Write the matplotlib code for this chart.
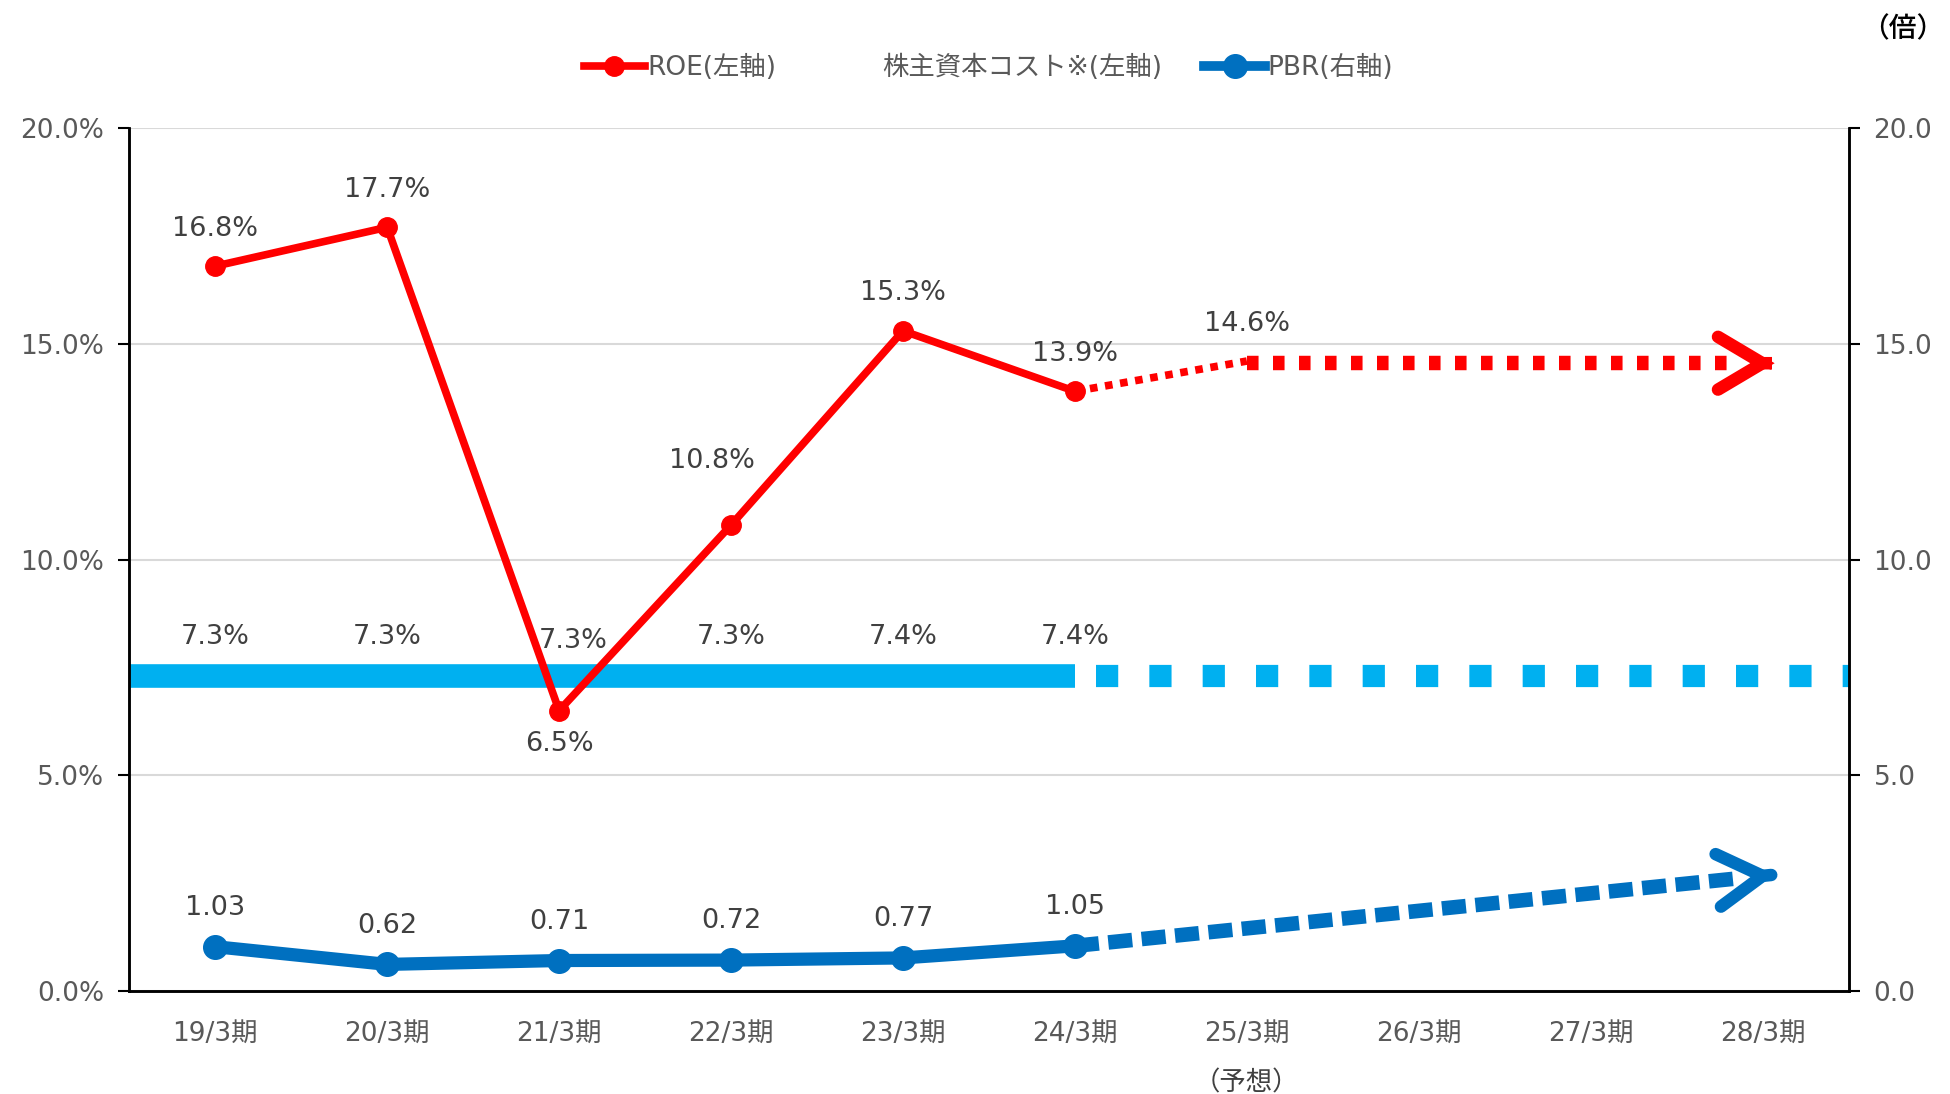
import matplotlib
matplotlib.use("Agg")
import matplotlib.pyplot as plt
from matplotlib.lines import Line2D
import numpy as np

plt.rcParams['font.family'] = ['DejaVu Sans', 'Noto Sans CJK JP']

# ---- data ----
periods = ["19/3期", "20/3期", "21/3期", "22/3期", "23/3期", "24/3期",
           "25/3期", "26/3期", "27/3期", "28/3期"]
roe = [16.8, 17.7, 6.5, 10.8, 15.3, 13.9]
roe_forecast = 14.6              # 25/3期 (予想)
cost = [7.3, 7.3, 7.3, 7.3, 7.4, 7.4]
pbr = [1.03, 0.62, 0.71, 0.72, 0.77, 1.05]
pbr_arrow_end = 2.7              # trend arrow target (right axis)
arrow_end_x = 9.07               # where the trend arrows end (category units)

RED = "#FF0000"
BLUE = "#0070C0"
CYAN = "#00B0F0"
GRID = "#D9D9D9"
TXT = "#404040"
TICK = "#595959"
FS = 19
LFS = 19.5

fig = plt.figure(figsize=(19.5, 10.94), dpi=100)
ax = fig.add_axes([0.0663, 0.094, 0.8817, 0.789])
ax2 = ax.twinx()

n = len(periods)
x = np.arange(n)
xa = np.arange(len(roe))

ax.set_xlim(-0.5, n - 0.5)
ax.set_ylim(0, 20)
ax2.set_ylim(0, 20)

# grid
ax.set_yticks([0, 5, 10, 15, 20])
ax.yaxis.grid(True, color=GRID, lw=1.5, zorder=0)
ax.set_axisbelow(True)

# ---- cost of capital (cyan) ----
ax.plot([-0.5, xa[-1]], [cost[0], cost[0]], color=CYAN, lw=17, solid_capstyle='butt', zorder=2)
ax.plot([xa[-1] + 0.12, n - 0.5], [cost[0], cost[0]], color=CYAN, lw=16,
        linestyle=(0, (1.0, 1.4)), dash_capstyle='butt', zorder=2)
for i, v in enumerate(cost):
    dx, dy = (0, 28)
    if i == 2:
        dx, dy = (10, 25)
    ax.annotate(f"{v:.1f}%", (xa[i], cost[0]), xytext=(dx, dy), textcoords='offset points',
                ha='center', va='center', fontsize=LFS, color=TXT, zorder=6)

# ---- ROE (red) ----
ax.plot(xa, roe, color=RED, lw=5.5, marker='o', ms=14, zorder=4)
ax.plot([xa[-1], xa[-1] + 1], [roe[-1], roe_forecast], color=RED, lw=5.5,
        linestyle=(0, (1.0, 1.0)), dash_capstyle='butt', zorder=4)
ax.plot([xa[-1] + 1, arrow_end_x - 0.25], [roe_forecast - 0.05] * 2, color=RED, lw=10.4,
        linestyle=(0, (0.8, 1.0)), dash_capstyle='butt', zorder=4)
ax.annotate('', xy=(arrow_end_x, roe_forecast - 0.05),
            xytext=(arrow_end_x - 0.02, roe_forecast - 0.05),
            arrowprops=dict(arrowstyle='->,head_length=1.6,head_width=0.95', lw=9,
                            color=RED, shrinkA=0, shrinkB=0, mutation_scale=20,
                            capstyle='round', joinstyle='miter'), zorder=4)
roe_offsets = [(0, 27), (0, 27), (0, -24), (-14, 46), (0, 27), (0, 27)]
for i, v in enumerate(roe):
    ax.annotate(f"{v:.1f}%", (xa[i], v), xytext=roe_offsets[i], textcoords='offset points',
                ha='center', va='center', fontsize=LFS, color=TXT, zorder=6)
ax.annotate(f"{roe_forecast:.1f}%", (xa[-1] + 1, roe_forecast), xytext=(0, 27),
            textcoords='offset points', ha='center', va='center', fontsize=LFS, color=TXT)

# ---- PBR (blue, right axis) ----
ax2.plot(xa, pbr, color=BLUE, lw=9.5, marker='o', ms=17, zorder=4)
sl = (pbr_arrow_end - pbr[-1]) / (arrow_end_x - xa[-1])
x_end_line = arrow_end_x - 0.2
ax2.plot([xa[-1], x_end_line], [pbr[-1], pbr[-1] + sl * (x_end_line - xa[-1])], color=BLUE,
         lw=10.5, linestyle=(0, (1.65, 0.65)), dash_capstyle='butt', zorder=4)
ax2.annotate('', xy=(arrow_end_x, pbr_arrow_end),
             xytext=(arrow_end_x - 0.02, pbr_arrow_end - sl * 0.02),
             arrowprops=dict(arrowstyle='->,head_length=1.6,head_width=0.95', lw=9,
                             color=BLUE, shrinkA=0, shrinkB=0, mutation_scale=20,
                             capstyle='round', joinstyle='miter'), zorder=4)
for i, v in enumerate(pbr):
    ax2.annotate(f"{v:.2f}", (xa[i], v), xytext=(0, 28), textcoords='offset points',
                 ha='center', va='center', fontsize=LFS, color=TXT, zorder=6)
ax2.set_xlim(-0.5, n - 0.5)

# ---- axes styling ----
ax.set_xticks(x)
ax.set_xticklabels(periods, fontsize=FS, color=TICK)
ax.tick_params(axis='x', length=0, pad=21)
ax.set_yticklabels([f"{t:.1f}%" for t in [0, 5, 10, 15, 20]], fontsize=FS, color=TICK)
ax.tick_params(axis='y', length=8, width=1.5, color='black', pad=10)
ax2.set_yticks([0, 5, 10, 15, 20])
ax2.set_yticklabels([f"{t:.1f}" for t in [0, 5, 10, 15, 20]], fontsize=FS, color=TICK)
ax2.tick_params(axis='y', length=8, width=1.5, color='black', pad=10)
for a in (ax, ax2):
    a.spines['top'].set_visible(False)
    for s in ('left', 'right', 'bottom'):
        a.spines[s].set_linewidth(1.8)
        a.spines[s].set_color('black')

ax.annotate("（予想）", (6, 0), xycoords=('data', 'axes fraction'), xytext=(0, -66),
            textcoords='offset points', ha='center', va='center', fontsize=19, color=TXT,
            family=['Noto Sans CJK JP', 'DejaVu Sans'], annotation_clip=False)
fig.text(0.976, 0.974, "（倍）", ha='center', va='center', fontsize=20, color='black',
         fontweight='medium', family=['Noto Sans CJK JP', 'DejaVu Sans'])

# ---- legend ----
handles = [
    Line2D([], [], color=RED, lw=5.5, marker='o', ms=14),
    Line2D([], [], color='none', lw=0),
    Line2D([], [], color=BLUE, lw=7, marker='o', ms=17),
]
labels = ["ROE(左軸)", "株主資本コスト※(左軸)", "PBR(右軸)"]
leg = fig.legend(handles, labels, loc='center', bbox_to_anchor=(0.507, 0.938), ncol=3,
                 frameon=False, fontsize=FS, handlelength=2.3, handletextpad=0.1,
                 columnspacing=1.6)
for t in leg.get_texts():
    t.set_color(TICK)

fig.savefig("out.png", dpi=100)
